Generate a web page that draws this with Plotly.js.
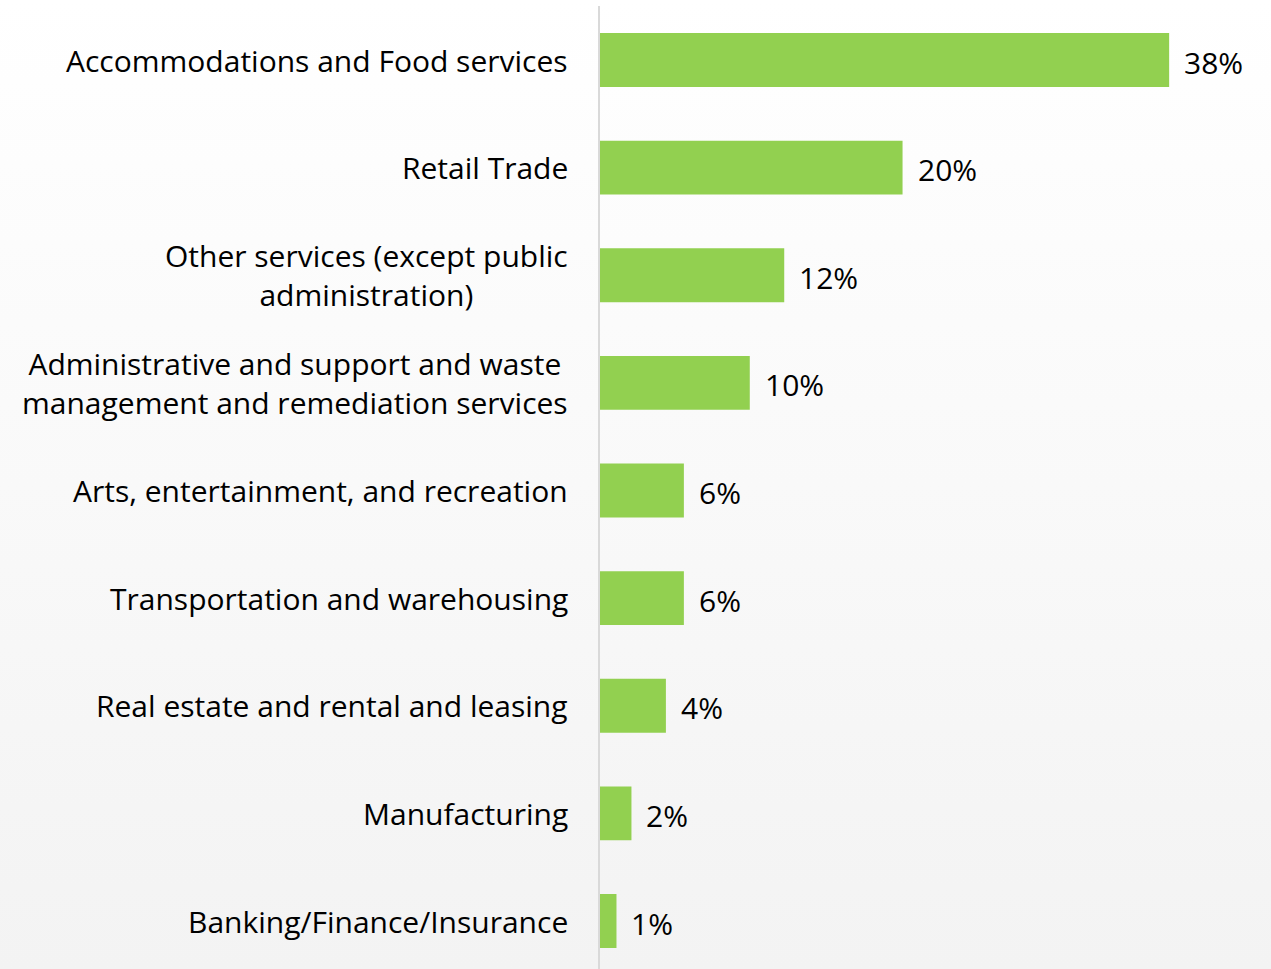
<!DOCTYPE html>
<html>
<head>
<meta charset="utf-8">
<script src="https://cdn.plot.ly/plotly-3.0.1.min.js"></script>
<style>
  html, body { margin:0; padding:0; }
  body { width:1271px; height:969px; background: linear-gradient(to bottom, #ffffff 0%, #f3f3f3 100%); }
  #chart { width:1271px; height:969px; }
</style>
</head>
<body>
<div id="chart"></div>
<script>
const categories = [
  "Accommodations and Food services",
  "Retail Trade",
  "Other services (except public<br>administration)",
  "Administrative and support and waste<br>management and remediation services",
  "Arts, entertainment, and recreation",
  "Transportation and warehousing",
  "Real estate and rental and leasing",
  "Manufacturing",
  "Banking/Finance/Insurance"
];
const values = [38.0, 20.2, 12.3, 10.0, 5.6, 5.6, 4.4, 2.1, 1.1];
const valueLabels = ["38%", "20%", "12%", "10%", "6%", "6%", "4%", "2%", "1%"];

const FONT = "Segoe UI, Open Sans, Noto Sans, sans-serif";

const valueAnnotations = categories.map((c, i) => ({
  x: values[i], y: c, xref: 'x', yref: 'y',
  text: valueLabels[i], showarrow: false,
  xanchor: 'left', yanchor: 'middle', xshift: 13, yshift: -2,
  font: {family: FONT, size: 30, color: '#000000'}
}));

const categoryAnnotations = categories.map((c) => ({
  x: 0, y: c, xref: 'paper', yref: 'y',
  text: c, showarrow: false,
  xanchor: 'right', yanchor: 'middle', xshift: -30, align: 'center',
  font: {family: FONT, size: 30, color: '#000000'}
}));

const data = [{
  type: 'bar', orientation: 'h',
  x: values, y: categories,
  marker: {color: '#92D050'},
  hoverinfo: 'none'
}];

const layout = {
  width: 1271, height: 969,
  margin: {l: 600, r: 0, t: 6, b: 0},
  paper_bgcolor: 'rgba(0,0,0,0)',
  plot_bgcolor: 'rgba(0,0,0,0)',
  bargap: 0.5,
  showlegend: false,
  xaxis: {range: [0, 44.8], visible: false, fixedrange: true},
  yaxis: {
    type: 'category',
    range: [8.446, -0.502],
    showline: true, linecolor: '#d9d9d9', linewidth: 2,
    showgrid: false, zeroline: false, ticks: '',
    showticklabels: false
  },
  annotations: categoryAnnotations.concat(valueAnnotations)
};

Plotly.newPlot('chart', data, layout, {displayModeBar: false, staticPlot: true});
</script>
</body>
</html>
